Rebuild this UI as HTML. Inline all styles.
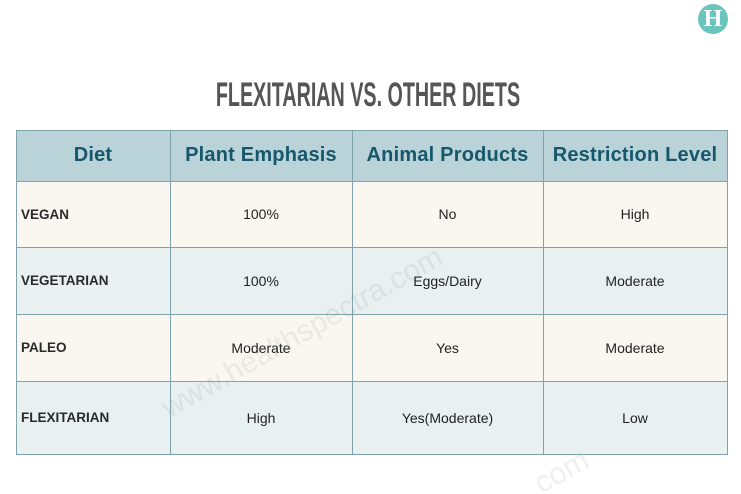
<!DOCTYPE html>
<html><head><meta charset="utf-8">
<style>
html,body{margin:0;padding:0;background:#fff;overflow:hidden;}
#c{position:relative;width:741px;height:494px;overflow:hidden;background:#fff;font-family:"Liberation Sans",sans-serif;}
.cell{position:absolute;display:flex;align-items:center;justify-content:center;box-sizing:border-box;color:#222;font-size:14px;}
.hd{background:#b9d3d8;color:#17576b;font-weight:bold;font-size:20px;letter-spacing:0.2px;}
.cr{background:#faf7f1;}
.bl{background:#e8f0f0;}
.lab{justify-content:flex-start;padding-left:5px;font-weight:bold;font-size:13.5px;color:#2a2a2a;}
.vl{position:absolute;width:1px;background:#7fa2ab;top:130px;height:325px;}
.hl{position:absolute;height:1px;background:#7fa2ab;left:16px;width:712px;}
</style></head>
<body><div id="c">
<div style="position:absolute;left:698px;top:4px;width:30px;height:30px;border-radius:50%;background:#6cc5bd;color:#fff;font-family:'Liberation Serif',serif;font-weight:bold;font-size:24px;line-height:30px;text-align:center;">H</div>
<div style="position:absolute;left:104px;top:78px;width:528px;height:34px;line-height:34px;font-size:34px;font-weight:bold;color:#555;text-align:center;white-space:nowrap;transform:scaleX(0.58);transform-origin:264px 17px;">FLEXITARIAN VS. OTHER DIETS</div>

<!-- header -->
<div class="cell hd" style="left:16px;top:130px;width:154px;height:51px;">Diet</div>
<div class="cell hd" style="left:170px;top:130px;width:182px;height:51px;">Plant Emphasis</div>
<div class="cell hd" style="left:352px;top:130px;width:191px;height:51px;">Animal Products</div>
<div class="cell hd" style="left:543px;top:130px;width:184px;height:51px;">Restriction Level</div>

<!-- row 1 -->
<div class="cell cr lab" style="left:16px;top:181px;width:154px;height:66px;">VEGAN</div>
<div class="cell cr" style="left:170px;top:181px;width:182px;height:66px;">100%</div>
<div class="cell cr" style="left:352px;top:181px;width:191px;height:66px;">No</div>
<div class="cell cr" style="left:543px;top:181px;width:184px;height:66px;">High</div>

<!-- row 2 -->
<div class="cell bl lab" style="left:16px;top:247px;width:154px;height:67px;">VEGETARIAN</div>
<div class="cell bl" style="left:170px;top:247px;width:182px;height:67px;">100%</div>
<div class="cell bl" style="left:352px;top:247px;width:191px;height:67px;">Eggs/Dairy</div>
<div class="cell bl" style="left:543px;top:247px;width:184px;height:67px;">Moderate</div>

<!-- row 3 -->
<div class="cell cr lab" style="left:16px;top:314px;width:154px;height:67px;">PALEO</div>
<div class="cell cr" style="left:170px;top:314px;width:182px;height:67px;">Moderate</div>
<div class="cell cr" style="left:352px;top:314px;width:191px;height:67px;">Yes</div>
<div class="cell cr" style="left:543px;top:314px;width:184px;height:67px;">Moderate</div>

<!-- row 4 -->
<div class="cell bl lab" style="left:16px;top:381px;width:154px;height:73px;">FLEXITARIAN</div>
<div class="cell bl" style="left:170px;top:381px;width:182px;height:73px;">High</div>
<div class="cell bl" style="left:352px;top:381px;width:191px;height:73px;">Yes(Moderate)</div>
<div class="cell bl" style="left:543px;top:381px;width:184px;height:73px;">Low</div>

<!-- grid lines -->
<div class="vl" style="left:16px;"></div>
<div class="vl" style="left:170px;"></div>
<div class="vl" style="left:352px;"></div>
<div class="vl" style="left:543px;"></div>
<div class="vl" style="left:727px;"></div>
<div class="hl" style="top:130px;"></div>
<div class="hl" style="top:181px;"></div>
<div class="hl" style="top:247px;"></div>
<div class="hl" style="top:314px;"></div>
<div class="hl" style="top:381px;"></div>
<div class="hl" style="top:454px;"></div>

<!-- watermarks -->
<svg width="741" height="494" style="position:absolute;left:0;top:0;" viewBox="0 0 741 494">
<text x="302" y="342" text-anchor="middle" transform="rotate(-29.4 302 332)" font-family="Liberation Sans, sans-serif" font-size="30" fill="rgba(120,120,120,0.12)">www.healthspectra.com</text>
<text x="591" y="466" text-anchor="end" transform="rotate(-29.4 591 466)" font-family="Liberation Sans, sans-serif" font-size="30" fill="rgba(120,120,120,0.12)">com</text>
</svg>
</div></body></html>
